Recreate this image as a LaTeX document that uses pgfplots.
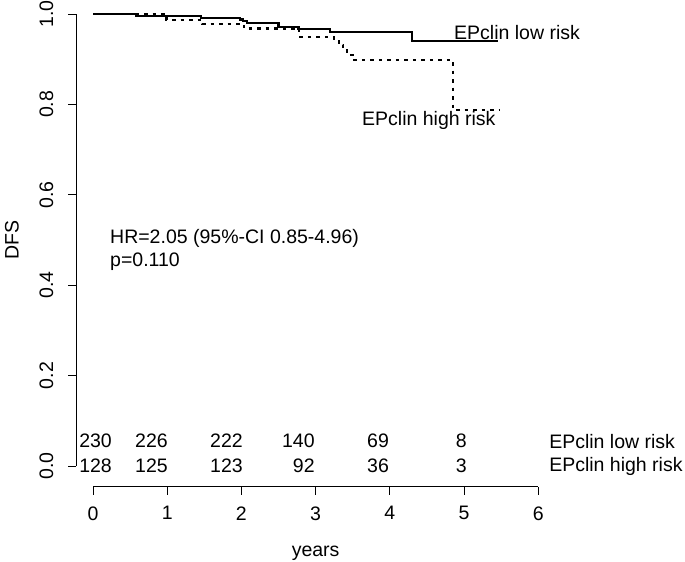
\documentclass[border=0pt]{standalone}
\usepackage{pgfplots}
\pgfplotsset{compat=1.18}
\usepackage{fontspec}
\setmainfont{Liberation Sans}
\begin{document}
\fontsize{19.5}{23.4}\selectfont
\begin{tikzpicture}[tx/.style={inner sep=0pt}]
\begin{axis}[
  x=74.2pt, y=452pt,
  xmin=-0.229, xmax=6.229, ymin=-0.046, ymax=1.031,
  axis x line*=bottom, axis y line*=left,
  axis line style={draw=none},
  tick align=outside,
  major tick length=8pt,
  tick style={black, line width=0.9pt},
  xtick={0,1,2,3,4,5,6},
  ytick={0,0.2,0.4,0.6,0.8,1.0},
  /pgf/number format/assume math mode=true,
  yticklabel style={/pgf/number format/fixed, /pgf/number format/fixed zerofill, /pgf/number format/precision=1, rotate=90, anchor=south},
  yticklabel shift=8pt,
  xticklabel shift=5pt,
  tick label style={font=\fontsize{19.5}{23.4}\selectfont},
  clip=false,
]
% partial axis lines (R style)
\draw[line width=0.9pt] (axis cs:0,-0.046) -- (axis cs:6,-0.046);
\draw[line width=0.9pt] (axis cs:-0.229,0) -- (axis cs:-0.229,1);

% EPclin low risk
\addplot[const plot, line width=2.2pt, black] coordinates {
(0,1.0) (0.585,0.9962) (1.46,0.9918) (1.98,0.988) (2.02,0.984) (2.07,0.980)
(2.50,0.972) (2.77,0.967) (3.19,0.961) (4.30,0.940) (5.46,0.940)};
% EPclin high risk
\addplot[const plot, line width=2.2pt, black, dash pattern=on 3.5pt off 5pt] coordinates {
(0,1.0) (0.99,0.987) (1.47,0.978) (2.03,0.968) (2.78,0.949) (3.25,0.942)
(3.31,0.932) (3.37,0.920) (3.42,0.910) (3.50,0.899) (4.85,0.788) (5.49,0.788)};

\node[tx,anchor=west] at (axis cs:4.865,0.960) {EPclin low risk};
\node[tx,anchor=west] at (axis cs:3.625,0.765) {EPclin high risk};
\node[tx,anchor=west] at (axis cs:0.229,0.504) {HR=2.05 (95\%-CI 0.85-4.96)};
\node[tx,anchor=west] at (axis cs:0.229,0.451) {p=0.110};

% numbers at risk
\node[tx,anchor=east] at (axis cs:0.256,0.055) {230};
\node[tx,anchor=east] at (axis cs:1.01,0.055) {226};
\node[tx,anchor=east] at (axis cs:2.02,0.055) {222};
\node[tx,anchor=east] at (axis cs:2.99,0.055) {140};
\node[tx,anchor=east] at (axis cs:3.99,0.055) {69};
\node[tx,anchor=east] at (axis cs:5.04,0.055) {8};
\node[tx,anchor=east] at (axis cs:0.256,0.0) {128};
\node[tx,anchor=east] at (axis cs:1.01,0.0) {125};
\node[tx,anchor=east] at (axis cs:2.02,0.0) {123};
\node[tx,anchor=east] at (axis cs:2.99,0.0) {92};
\node[tx,anchor=east] at (axis cs:3.99,0.0) {36};
\node[tx,anchor=east] at (axis cs:5.04,0.0) {3};
\node[tx,anchor=west] at (axis cs:6.146,0.055) {EPclin low risk};
\node[tx,anchor=west] at (axis cs:6.146,0.0) {EPclin high risk};

\node at (axis cs:3,-0.192) {years};
\node[rotate=90] at (axis cs:-1.092,0.5) {DFS};

\coordinate (bl) at (axis cs:-1.2534,-0.2102);
\coordinate (tr) at (axis cs:7.978,1.031);
\end{axis}
\pgfresetboundingbox
\path (bl) rectangle (tr);
\end{tikzpicture}
\end{document}
